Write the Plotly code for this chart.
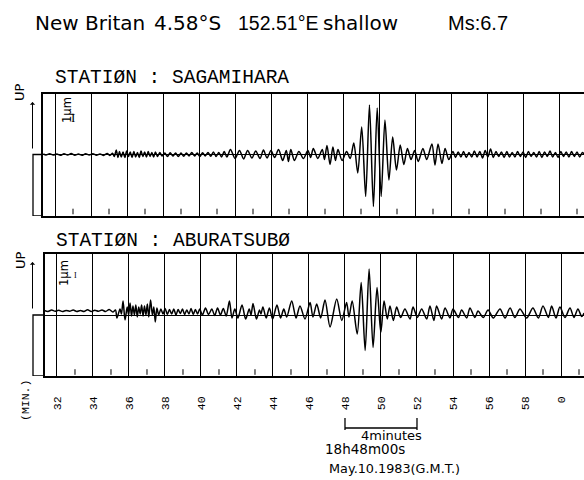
import plotly.graph_objects as go

# ---------------- data ----------------
minute_ticks = [32, 34, 36, 38, 40, 42, 44, 46, 48, 50, 52, 54, 56, 58, 60]
minute_labels = ["32", "34", "36", "38", "40", "42", "44", "46", "48", "50", "52", "54", "56", "58", "0"]
odd_minutes = [33, 35, 37, 39, 41, 43, 45, 47, 49, 51, 53, 55, 57, 59, 61]

# Station SAGAMIHARA: time (min) and vertical displacement (chart units)
t_saga = [
    31.35, 31.5, 31.7, 31.9, 32.1, 32.3, 32.5, 32.7, 32.9, 33.1, 33.3, 33.5, 33.7, 33.9, 34.1, 34.3, 34.5, 34.7, 34.9, 35.05, 35.2,
    35.3, 35.4, 35.5, 35.58, 35.68, 35.78, 35.88, 35.98, 36.08, 36.18, 36.28, 36.38, 36.48, 36.58, 36.68, 36.78, 36.88, 36.98, 37.08, 37.18, 37.28, 37.38, 37.48, 37.58, 37.7, 37.82,
    37.95, 38.1, 38.25, 38.4, 38.55, 38.7, 38.85, 39.0, 39.15, 39.3, 39.45, 39.6, 39.75, 39.9, 40.05, 40.2, 40.35, 40.5, 40.65, 40.8, 40.95, 41.1, 41.25, 41.4, 41.55,
    41.75, 42.0, 42.25, 42.48, 42.7, 42.94, 43.15, 43.39, 43.58, 43.78, 44.0, 44.2, 44.42, 44.65, 44.85, 44.97, 45.1, 45.3, 45.55, 45.8, 46.05, 46.2, 46.35, 46.6, 46.85, 46.97, 47.11, 47.28, 47.44, 47.58, 47.72, 47.95, 48.2, 48.4,
    48.6, 48.82, 49.04, 49.26, 49.47, 49.69, 49.9, 50.12, 50.33, 50.55, 50.76, 50.97, 51.18, 51.38, 51.58, 51.78, 51.98, 52.18, 52.44, 52.65, 52.94, 53.11, 53.28, 53.5, 53.67, 53.88, 54.11, 54.25,
    54.4, 54.55, 54.7, 54.85, 55.0, 55.15, 55.3, 55.45, 55.6, 55.75, 55.9, 56.05, 56.2, 56.35, 56.5, 56.65, 56.8, 56.95, 57.1, 57.25, 57.4, 57.55, 57.7, 57.85,
    58.0, 58.15, 58.3, 58.45, 58.6, 58.75, 58.9, 59.05, 59.2, 59.35, 59.5, 59.65, 59.8, 59.95, 60.1, 60.25, 60.4, 60.55, 60.7, 60.85, 61.0, 61.15, 61.3, 61.45,
]
a_saga = [
    0.5, -0.5, 0.8, -0.6, 0.6, -0.8, 0.7, -0.5, 0.9, -0.7, 0.5, -0.8, 0.7, -0.6, 0.8, -0.7, 0.6, -0.9, 1.0, -1.0, 1.2,
    -2, 4.5, -3, 3, -2.5, 2.5, -3, 3.5, -2, 2.5, -3, 3, -2.5, 2, -3, 3.5, -2, 2.5, -2.5, 3, -2, 2, -2.5, 2.5, -2, 2,
    -1.5, 1.5, -2, 1.8, -1.5, 1.5, -2, 1.5, -1.8, 1.5, -1.5, 2, -1.5, 1.5, -2, 1.8, -1.5, 2, -1.8, 2.5, -2, 2, -2.5, 3, -2.5,
    5, -4, 4, -4.5, 4, -3.5, 3.5, -4, 4.5, -3.5, 4, -3, 5, -6, 4, -7, 5, -6, 3, -4, 4, -3, 6, -4, 5, -5, 9, -10, 7.5, -6, 5, -6, 3, -4,
    11.5, -18.5, 27.5, -42, 49.5, -52, 46.5, -42, 34.5, -25.5, 17.5, -15.5, 9.5, -10, 6, -5, 4, -7, 6, -5, 10.5, -10.5, 10.5, -9, 6, -5, 3, -3,
    2.5, -2.5, 3, -3, 2, -2.5, 3.5, -2.5, 3, -3.5, 4, -2.5, 5.5, -3, 3, -2, 2.5, -3, 3, -2.5, 2, -2.5, 3, -2,
    2.5, -3, 3, -2, 2, -2.5, 3, -3, 2.5, -2, 3.5, -2.5, 2, -3, 3, -2, 2.5, -2.5, 3, -2, 2.5, -2.5, 2, -1,
]

# Station ABURATSUBO
t_abu = [
    31.3, 31.5, 31.7, 31.9, 32.1, 32.3, 32.5, 32.7, 32.9, 33.1, 33.3, 33.5, 33.7, 33.9, 34.1, 34.3, 34.5, 34.7, 34.9, 35.1, 35.25,
    35.33, 35.5, 35.58, 35.67, 35.78, 35.9, 35.98, 36.06, 36.14, 36.22, 36.3, 36.38, 36.46, 36.54, 36.62, 36.7, 36.78, 36.86, 36.94, 37.02, 37.1, 37.2, 37.3, 37.38, 37.46, 37.55, 37.65,
    37.77, 37.89, 38.01, 38.13, 38.25, 38.37, 38.49, 38.61, 38.73, 38.85, 38.97, 39.09, 39.21, 39.33, 39.45, 39.57, 39.69, 39.81, 39.93,
    40.08, 40.25, 40.42, 40.6, 40.76, 40.92, 41.08, 41.24, 41.4, 41.58, 41.72,
    41.88, 42.05, 42.28, 42.48, 42.68, 42.78, 42.89, 43.08, 43.25, 43.33, 43.44, 43.62, 43.8, 43.98, 44.22, 44.42, 44.6, 44.76,
    45.04, 45.28, 45.5, 45.78, 46.06, 46.22, 46.43, 46.65, 46.89, 47.17, 47.54, 47.82, 48.09, 48.22, 48.4,
    48.68, 48.9, 49.12, 49.34, 49.56, 49.78, 49.99, 50.17, 50.35, 50.5, 50.69, 50.87, 51.09, 51.33, 51.61, 51.78, 52.02, 52.26, 52.54, 52.72, 52.94, 53.09, 53.37, 53.56, 53.83, 54.0,
    54.3, 54.48, 54.76, 54.94, 55.22, 55.39, 55.68, 55.95, 56.24, 56.61, 56.89, 57.17, 57.44, 57.72, 58.09, 58.44, 58.74, 59.0, 59.3, 59.48, 59.72, 59.94, 60.22, 60.5, 60.72, 60.94, 61.15, 61.28,
]
a_abu = [
    4.5, 3.5, 5, 3.8, 4.8, 3.5, 4.6, 3.8, 5, 3.5, 4.5, 3.6, 5.2, 3.5, 4.8, 3.8, 5, 3.5, 5.5, 3, 5,
    -3, 6, 1, 14, -5, 8, 0, 12, -1, 9, 0, 10, -2, 8, 1, 10, -1, 9, 0, 11, -2, 15, 0, 8, -7, 7, 0,
    6, 1, 6.5, 0.5, 5.5, 1, 6, 0, 5.5, 1.5, 6, 0.5, 5, 1, 6.5, 0.5, 5.5, 1, 6,
    0, 7, 0.5, 6, -0.5, 7, 0, 6.5, -1, 14, -3,
    6, -3, 10, -4, 6, 0, 11.5, -4, 5, 1, 8, -3, 7, -4, 10, -3, 6, -2,
    14, -3, 9, -4, 12.5, -2, 11, -3, 15, -12, 16, -5.5, 12.5, -2, 14,
    -19, 32.5, -35.5, 46, -32.5, 27.5, -17.5, 14, -4, 9, -5.5, 8, -2.5, 6, -4, 8, -2.5, 6, -4, 9, -5.5, 9, -4, 7, -3, 6,
    -2.5, 5, -3, 7, -2.5, 4, -2.5, 5, -3, 6, -3, 7, -2.5, 6, -3, 7, -3, 9, -2.5, 9, -3, 8, -2.5, 7, -2.5, 6, -1.5, 2,
]
assert len(t_saga) == len(a_saga), (len(t_saga), len(a_saga))
assert len(t_abu) == len(a_abu), (len(t_abu), len(a_abu))

# ---------------- figure ----------------
W, H = 584, 480


def px(x):
    return x / W


def py(y):
    return 1 - y / H


BLACK = "black"
fig = go.Figure()
trace_line = dict(color=BLACK, width=1.5, shape="spline", smoothing=0.8)
fig.add_trace(go.Scatter(x=t_saga, y=a_saga, mode="lines", line=trace_line,
                         xaxis="x", yaxis="y", hoverinfo="skip"))
fig.add_trace(go.Scatter(x=t_abu, y=a_abu, mode="lines", line=trace_line,
                         xaxis="x2", yaxis="y2", hoverinfo="skip"))
tick_marker = dict(symbol="line-ns", size=4, line=dict(width=1, color=BLACK))
fig.add_trace(go.Scatter(x=odd_minutes, y=[-57] * len(odd_minutes), mode="markers",
                         marker=tick_marker, xaxis="x", yaxis="y", hoverinfo="skip"))
fig.add_trace(go.Scatter(x=odd_minutes, y=[-57] * len(odd_minutes), mode="markers",
                         marker=tick_marker, xaxis="x2", yaxis="y2", hoverinfo="skip"))

xcommon = dict(tickvals=minute_ticks, showgrid=True, gridcolor=BLACK, gridwidth=1,
               ticks="", showline=True, linecolor=BLACK, linewidth=1.5, mirror=True,
               zeroline=False, fixedrange=True)
ycommon = dict(showgrid=False, zeroline=True, zerolinecolor=BLACK, zerolinewidth=1,
               showline=True, linecolor=BLACK, linewidth=1.5, showticklabels=False,
               ticks="", fixedrange=True)

fig.update_layout(
    width=W, height=H, margin=dict(l=0, r=0, t=0, b=0),
    paper_bgcolor="white", plot_bgcolor="white", showlegend=False,
    xaxis=dict(domain=[px(43), 1], range=[31.333, 61.389], showticklabels=False,
               anchor="y", **xcommon),
    yaxis=dict(domain=[py(216), py(93.5)], range=[-61.5, 61], anchor="x", **ycommon),
    xaxis2=dict(domain=[px(44.5), 1], range=[31.306, 61.278], ticktext=minute_labels,
                tickangle=-90, ticklabelstandoff=14,
                tickfont=dict(family="Liberation Mono", size=11.5, color=BLACK),
                anchor="y2", **xcommon),
    yaxis2=dict(domain=[py(376), py(253.5)], range=[-61, 61.5], anchor="x2", **ycommon),
)

ann = []


def text(s, x, y, size, family="DejaVu Sans", xanchor="left", angle=0):
    ann.append(dict(text=s, x=px(x), y=py(y), xref="paper", yref="paper",
                    xanchor=xanchor, yanchor="middle", showarrow=False,
                    textangle=angle, font=dict(family=family, size=size, color=BLACK)))


# headline
text("New Britan", 33, 23, 20)
text("4.58°S", 152, 23, 20)
text("152.51°E", 236, 23, 19.5, family="Liberation Sans")
text("shallow", 321, 23, 20)
text("Ms:6.7", 446, 23, 20, family="Liberation Sans")

# station titles
text("STATIØN : SAGAMIHARA", 53, 77.5, 19.5, family="Liberation Mono")
text("STATIØN : ABURATSUBØ", 54, 240.5, 19.5, family="Liberation Mono")

# UP labels and amplitude marks
for (ux, uy, mx, my, bx, by, bs) in [(19, 92, 67, 110, 73, 117, 13), (20, 260, 64, 273, 75, 275, 8)]:
    text("UP", ux, uy, 13, xanchor="center", angle=-90)
    text("1μm", mx, my, 11.5, xanchor="center", angle=-90)
    text("I", bx, by, bs, family="Liberation Serif", xanchor="center")

for (tip, tail) in [(102, 150), (262, 310)]:
    ann.append(dict(text="", x=px(32.5), y=py(tip), xref="paper", yref="paper",
                    showarrow=True, ax=0, ay=tail - tip, arrowhead=1, arrowsize=0.9,
                    arrowwidth=1, arrowcolor=BLACK))

text("(MIN.)", 25, 401, 11.5, family="Liberation Mono", xanchor="center", angle=-90)
text("4minutes", 359, 435, 13)
text("18h48m00s", 323, 448.5, 13.5)
text("May.10.1983(G.M.T.)", 327, 468, 12.8)

shapes = []
# calibration step brackets on the left
shapes.append(dict(type="path", xref="paper", yref="y",
                   path=f"M {px(43)},0 H {px(33)} V -61.5 H {px(43)}",
                   line=dict(color=BLACK, width=1.3)))
shapes.append(dict(type="path", xref="paper", yref="y2",
                   path=f"M {px(44.5)},0 H {px(33)} V -61 H {px(44.5)}",
                   line=dict(color=BLACK, width=1.3)))
# 4-minute scale bar
shapes.append(dict(type="line", xref="x2", yref="paper", x0=48, x1=52, y0=py(428), y1=py(428),
                   line=dict(color=BLACK, width=1.3)))
for xm in (48, 52):
    shapes.append(dict(type="line", xref="x2", yref="paper", x0=xm, x1=xm, y0=py(418), y1=py(430),
                       line=dict(color=BLACK, width=1.3)))

fig.update_layout(annotations=ann, shapes=shapes)
fig.write_html("out.html")
